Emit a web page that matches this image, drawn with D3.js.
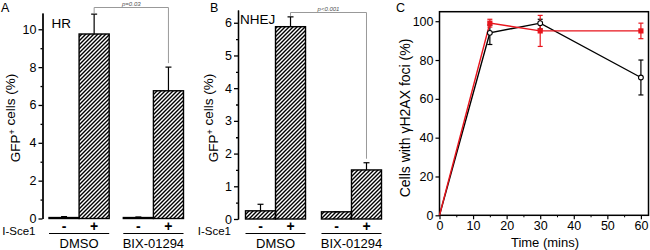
<!DOCTYPE html>
<html>
<head>
<meta charset="utf-8">
<script src="https://cdnjs.cloudflare.com/ajax/libs/d3/7.8.5/d3.min.js"></script>
<style>
  body { margin: 0; background: #fff; }
  svg { display: block; font-family: "Liberation Sans", Arial, sans-serif; }
  .tick text { font-size: 12.5px; fill: #000; font-family: "Liberation Sans", Arial, sans-serif; }
</style>
</head>
<body>
<div id="chart"></div>
<script>
// ---- data ----
const groups = ["DMSO", "BIX-01294"];
const treatments = ["-", "+"];

// panel A: HR
const hrValues = [[0.05, 9.75], [0.05, 6.75]];
const hrErrTop = [[0.1, 10.8], [0.08, 8.0]];
const hrTicks = [0, 2, 4, 6, 8, 10];
const hrMinor = [1, 3, 5, 7, 9];

// panel B: NHEJ
const nhejValues = [[0.25, 5.88], [0.22, 1.5]];
const nhejErrTop = [[0.45, 6.18], [0.22, 1.72]];
const nhejTicks = [0, 1, 2, 3, 4, 5, 6];
const nhejMinor = [0.5, 1.5, 2.5, 3.5, 4.5, 5.5];

// panel C: time course
const timePoints = [0, 15, 30, 60];
const blackSeries = [0, 94, 99, 71];
const blackLow = [0, 88, 96, 62];
const blackHigh = [0, 98, 101, 80];
const redSeries = [0, 99, 95, 95];
const redLow = [0, 97, 87, 91];
const redHigh = [0, 101, 103, 99];
const timeTicks = [0, 10, 20, 30, 40, 50, 60];
const timeMinor = [5, 15, 25, 35, 45, 55];
const pctTicks = [0, 20, 40, 60, 80, 100];

const fmt = d3.format("~g");

const svg = d3.select("#chart").append("svg")
    .attr("width", 650)
    .attr("height", 250);

// hatch pattern
svg.append("defs").append("pattern")
    .attr("id", "hatch")
    .attr("patternUnits", "userSpaceOnUse")
    .attr("width", 4)
    .attr("height", 4)
  .append("path")
    .attr("d", "M-1,1 l2,-2 M0,4 l4,-4 M3,5 l2,-2")
    .attr("stroke", "#000")
    .attr("stroke-width", 1.4);

function panelLetter(x, txt) {
    svg.append("text")
        .attr("x", x)
        .attr("y", 12)
        .style("font-size", "12.5px")
        .text(txt);
}

function yLabel(x, yc, size, parts) {
    const t = svg.append("text")
        .attr("transform", "translate(" + x + "," + yc + ") rotate(-90)")
        .attr("text-anchor", "middle")
        .style("font-size", size + "px");
    parts.forEach(p => {
        if (p.sup) {
            t.append("tspan").attr("dy", -5).style("font-size", "9px").text(p.t);
            t.append("tspan").attr("dy", 5).text("");
        } else {
            t.append("tspan").text(p.t);
        }
    });
}

function barPanel(opt) {
    const y = d3.scaleLinear().domain(opt.domain).range([opt.y0, opt.yTop]);
    const gx = d3.scaleBand().domain(groups).range(opt.xRange).paddingInner(opt.pad);
    const bx = d3.scaleBand().domain(treatments).range([0, gx.bandwidth()]);

    // axis
    svg.append("g")
        .attr("transform", "translate(" + opt.axisX + ",0)")
        .call(d3.axisLeft(y).tickValues(opt.minor).tickSize(2).tickFormat("").tickSizeOuter(0))
        .call(g => g.selectAll("line,path").attr("stroke-width", 1.3));
    svg.append("g")
        .attr("transform", "translate(" + opt.axisX + ",0)")
        .call(d3.axisLeft(y).tickValues(opt.ticks).tickFormat(fmt).tickSize(4).tickPadding(2).tickSizeOuter(0))
        .call(g => g.selectAll("line,path").attr("stroke-width", 1.3));

    groups.forEach((grp, gi) => {
        treatments.forEach((tr, ti) => {
            const x0 = gx(grp) + bx(tr);
            const v = opt.values[gi][ti];
            const e = opt.errTop[gi][ti];
            const cx = x0 + bx.bandwidth() / 2;
            // error bar
            svg.append("line")
                .attr("x1", cx).attr("x2", cx)
                .attr("y1", y(v)).attr("y2", y(e))
                .attr("stroke", "#000").attr("stroke-width", 1.2);
            svg.append("line")
                .attr("x1", cx - 3).attr("x2", cx + 3)
                .attr("y1", y(e)).attr("y2", y(e))
                .attr("stroke", "#000").attr("stroke-width", 1.2);
            svg.append("rect")
                .attr("x", x0)
                .attr("y", y(v))
                .attr("width", bx.bandwidth())
                .attr("height", Math.max(y(0) - y(v), 0.5))
                .attr("fill", "url(#hatch)")
                .attr("stroke", "#000")
                .attr("stroke-width", 1.4);
            svg.append("text")
                .attr("x", cx)
                .attr("y", 231)
                .attr("text-anchor", "middle")
                .style("font-size", "14px")
                .style("font-weight", "bold")
                .text(tr);
        });
        svg.append("line")
            .attr("x1", gx(grp)).attr("x2", gx(grp) + gx.bandwidth())
            .attr("y1", 233.5).attr("y2", 233.5)
            .attr("stroke", "#000").attr("stroke-width", 1);
        svg.append("text")
            .attr("x", gx(grp) + gx.bandwidth() / 2)
            .attr("y", 247.5)
            .attr("text-anchor", "middle")
            .style("font-size", "13px")
            .text(grp);
    });

    svg.append("text")
        .attr("x", opt.axisX - 7)
        .attr("y", 235)
        .attr("text-anchor", "end")
        .style("font-size", "11.5px")
        .text("I-Sce1");

    svg.append("text")
        .attr("x", opt.axisX + opt.titleDx)
        .attr("y", opt.titleY)
        .style("font-size", "13.5px")
        .text(opt.title);

    // significance bracket
    const xa = gx(groups[0]) + bx("+") + bx.bandwidth() / 2;
    const xb = gx(groups[1]) + bx("+") + bx.bandwidth() / 2;
    svg.append("path")
        .attr("d", "M" + xa + "," + (y(opt.errTop[0][1]) - 1) + "V" + opt.brY + "H" + xb + "V" + (y(opt.errTop[1][1]) - 4))
        .attr("fill", "none")
        .attr("stroke", "#999")
        .attr("stroke-width", 1);
    svg.append("text")
        .attr("x", (xa + xb) / 2)
        .attr("y", opt.brY - 2)
        .attr("text-anchor", "middle")
        .style("font-size", "6px")
        .style("font-style", "italic")
        .style("fill", "#555")
        .text(opt.pText);
}

// ---- panel A ----
panelLetter(1, "A");
barPanel({
    domain: [0, 10.86], y0: 218.5, yTop: 13,
    axisX: 42.5, xRange: [49, 183.5], pad: 0.19,
    values: hrValues, errTop: hrErrTop, ticks: hrTicks, minor: hrMinor,
    title: "HR", titleDx: 9, titleY: 28, brY: 7.5, pText: "p=0.03"
});
yLabel(20, 118, 13.5, [{t: "GFP"}, {t: "+", sup: true}, {t: " cells (%)"}]);

// ---- panel B ----
panelLetter(210, "B");
barPanel({
    domain: [0, 6.39], y0: 219, yTop: 10,
    axisX: 238, xRange: [245.5, 381.5], pad: 0.21,
    values: nhejValues, errTop: nhejErrTop, ticks: nhejTicks, minor: nhejMinor,
    title: "NHEJ", titleDx: 2, titleY: 24, brY: 12.5, pText: "p<0.001"
});
yLabel(218, 118, 13.5, [{t: "GFP"}, {t: "+", sup: true}, {t: " cells (%)"}]);

// ---- panel C ----
panelLetter(396, "C");
const xC = d3.scaleLinear().domain([0, 62.5]).range([439.5, 649.3]);
const yC = d3.scaleLinear().domain([0, 104.9]).range([215.3, 11.7]);

svg.append("g")
    .attr("transform", "translate(0,215.3)")
    .call(d3.axisBottom(xC).tickValues(timeMinor).tickSize(2).tickFormat("").tickSizeOuter(0))
    .call(g => g.select(".domain").remove());
svg.append("g")
    .attr("transform", "translate(0,215.3)")
    .call(d3.axisBottom(xC).tickValues(timeTicks).tickFormat(fmt).tickSize(4).tickPadding(2).tickSizeOuter(0))
    .call(g => g.select(".domain").remove())
    .call(g => g.selectAll("line").attr("stroke-width", 1.2));
svg.append("g")
    .attr("transform", "translate(439.5,0)")
    .call(d3.axisLeft(yC).tickValues(pctTicks).tickFormat(fmt).tickSize(4).tickPadding(2).tickSizeOuter(0))
    .call(g => g.select(".domain").remove())
    .call(g => g.selectAll("line").attr("stroke-width", 1.2));

svg.append("rect")
    .attr("x", 439.5)
    .attr("y", 11.7)
    .attr("width", 649.3 - 439.5 - 0.8)
    .attr("height", 215.3 - 11.7)
    .attr("fill", "none")
    .attr("stroke", "#000")
    .attr("stroke-width", 1.5);

const line = d3.line().x((d, i) => xC(timePoints[i])).y(d => yC(d));

function series(vals, low, high, color) {
    timePoints.forEach((t, i) => {
        if (i === 0) return;
        svg.append("line")
            .attr("x1", xC(t)).attr("x2", xC(t))
            .attr("y1", yC(low[i])).attr("y2", yC(high[i]))
            .attr("stroke", color).attr("stroke-width", 1.2);
        [low[i], high[i]].forEach(v => {
            svg.append("line")
                .attr("x1", xC(t) - 2.5).attr("x2", xC(t) + 2.5)
                .attr("y1", yC(v)).attr("y2", yC(v))
                .attr("stroke", color).attr("stroke-width", 1.2);
        });
    });
    svg.append("path")
        .datum(vals)
        .attr("d", line)
        .attr("fill", "none")
        .attr("stroke", color)
        .attr("stroke-width", 1.4);
}

series(blackSeries, blackLow, blackHigh, "#000");
series(redSeries, redLow, redHigh, "#e8141c");

// markers (not at the origin point)
svg.selectAll(".bdot")
    .data(blackSeries.slice(1))
    .enter()
    .append("circle")
    .attr("cx", (d, i) => xC(timePoints[i + 1]))
    .attr("cy", d => yC(d))
    .attr("r", 2.4)
    .attr("fill", "#fff")
    .attr("stroke", "#000")
    .attr("stroke-width", 1.1);

svg.selectAll(".rdot")
    .data(redSeries.slice(1))
    .enter()
    .append("rect")
    .attr("x", (d, i) => xC(timePoints[i + 1]) - 2.6)
    .attr("y", d => yC(d) - 2.6)
    .attr("width", 5.2)
    .attr("height", 5.2)
    .attr("fill", "#e8141c");

svg.append("text")
    .attr("x", 545)
    .attr("y", 246.5)
    .attr("text-anchor", "middle")
    .style("font-size", "13px")
    .text("Time (mins)");

yLabel(410, 118, 14, [{t: "Cells with "}, {t: "γ"}, {t: "H2AX foci (%)"}]);
</script>
</body>
</html>
